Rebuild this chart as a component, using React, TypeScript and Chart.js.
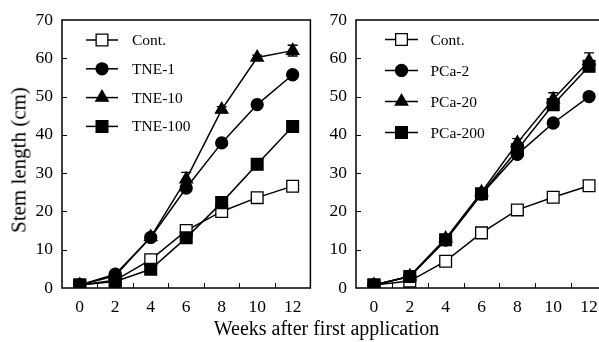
import React, { useEffect, useRef } from 'react';
import { Chart, registerables } from 'chart.js';
Chart.register(...registerables);

// ---------- data ----------
const weeks = [0, 2, 4, 6, 8, 10, 12];
const yTickValues = [0, 10, 20, 30, 40, 50, 60, 70];
const xMinorTicks = [1, 3, 5, 7, 9, 11];
const yMinorTicks = [10, 20, 30, 40, 50, 60];

// Left panel (TNE)
const tneLabels = ['Cont.', 'TNE-1', 'TNE-10', 'TNE-100'];
const tneCont = [0.8, 2.0, 7.4, 15.0, 20.0, 23.6, 26.6];
const tne1 = [0.8, 3.6, 13.2, 26.1, 37.9, 47.9, 55.7];
const tne10 = [0.8, 3.2, 13.3, 28.4, 46.6, 60.2, 62.0];
const tne100 = [0.8, 1.7, 4.9, 13.1, 22.3, 32.3, 42.2];
const tne10Err = [0, 0, 0, 1.8, 0.8, 0.6, 1.4];

// Right panel (PCa)
const pcaLabels = ['Cont.', 'PCa-2', 'PCa-20', 'PCa-200'];
const pcaCont = [0.8, 1.8, 7.0, 14.4, 20.4, 23.7, 26.7];
const pca2 = [0.8, 3.0, 12.5, 24.5, 34.9, 43.1, 50.0];
const pca20 = [0.8, 3.1, 12.9, 25.0, 37.9, 49.3, 59.3];
const pca200 = [0.8, 3.0, 12.6, 24.6, 36.1, 47.9, 57.9];
const pca20Err = [0, 0, 0, 0, 1.1, 1.7, 2.1];

const FONT = "'Liberation Serif', 'Times New Roman', serif";

type Marker = 'rect' | 'circle' | 'triangle';
const markerStyles: Marker[] = ['rect', 'circle', 'triangle', 'rect'];
const markerRadius = [8.3, 6, 7.2, 8.3];
const markerFill = ['#ffffff', '#000000', '#000000', '#000000'];
const drawOrder = [3, 2, 1, 0];

function drawMarker(ctx: CanvasRenderingContext2D, style: Marker, x: number, y: number, r: number, fill: string) {
  ctx.beginPath();
  if (style === 'circle') {
    ctx.arc(x, y, r, 0, Math.PI * 2);
  } else if (style === 'rect') {
    const s = r * Math.SQRT1_2;
    ctx.rect(x - s, y - s, 2 * s, 2 * s);
  } else {
    let a = 0;
    ctx.moveTo(x + Math.sin(a) * r, y - Math.cos(a) * r);
    a += (2 * Math.PI) / 3;
    ctx.lineTo(x + Math.sin(a) * r, y - Math.cos(a) * r);
    a += (2 * Math.PI) / 3;
    ctx.lineTo(x + Math.sin(a) * r, y - Math.cos(a) * r);
    ctx.closePath();
  }
  ctx.fillStyle = fill;
  ctx.fill();
  ctx.stroke();
}

interface PanelCfg {
  labels: string[];
  series: number[][];
  errors: (number[] | null)[];
  yAxisWidth: number;
  padRight: number;
  legend: { marker: number; half: number; text: number; y0: number; dy: number };
}

function makePlugin(cfg: PanelCfg) {
  return {
    id: 'panelDecor',
    afterDatasetsDraw(chart: any) {
      const ctx = chart.ctx as CanvasRenderingContext2D;
      const xs = chart.scales.x;
      const ys = chart.scales.y;
      ctx.save();
      ctx.strokeStyle = '#000';
      ctx.lineWidth = 1.3;
      cfg.errors.forEach((err, di) => {
        if (!err) return;
        err.forEach((e, i) => {
          if (!e) return;
          const v = cfg.series[di][i];
          const px = xs.getPixelForValue(weeks[i]);
          const t = ys.getPixelForValue(v + e);
          const b = ys.getPixelForValue(v - e);
          ctx.beginPath();
          ctx.moveTo(px, t);
          ctx.lineTo(px, b);
          ctx.moveTo(px - 5, t);
          ctx.lineTo(px + 5, t);
          ctx.moveTo(px - 5, b);
          ctx.lineTo(px + 5, b);
          ctx.stroke();
        });
      });
      ctx.restore();
    },
    afterDraw(chart: any) {
      const ctx = chart.ctx as CanvasRenderingContext2D;
      const a = chart.chartArea;
      const xs = chart.scales.x;
      const ys = chart.scales.y;
      ctx.save();
      ctx.strokeStyle = '#000';
      ctx.lineWidth = 1.5;
      ctx.strokeRect(a.left, a.top, a.right - a.left, a.bottom - a.top);
      ctx.lineWidth = 1;
      ctx.beginPath();
      xMinorTicks.forEach((v) => {
        const px = Math.round(xs.getPixelForValue(v)) + 0.5;
        ctx.moveTo(px, a.bottom);
        ctx.lineTo(px, a.bottom - 5);
      });
      yMinorTicks.forEach((v) => {
        const py = Math.round(ys.getPixelForValue(v)) + 0.5;
        ctx.moveTo(a.left, py);
        ctx.lineTo(a.left + 5, py);
      });
      ctx.stroke();

      // legend
      const L = cfg.legend;
      ctx.font = `15.5px ${FONT}`;
      ctx.textBaseline = 'middle';
      ctx.textAlign = 'left';
      cfg.labels.forEach((lab, i) => {
        const y = a.top + L.y0 + i * L.dy;
        const cx = a.left + L.marker;
        ctx.lineWidth = 1.5;
        ctx.strokeStyle = '#000';
        ctx.beginPath();
        ctx.moveTo(cx - L.half, y);
        ctx.lineTo(cx + L.half, y);
        ctx.stroke();
        ctx.lineWidth = 1.3;
        drawMarker(ctx, markerStyles[i], cx, y, markerRadius[i], markerFill[i]);
        ctx.fillStyle = '#000';
        ctx.fillText(lab, a.left + L.text, y + 1);
      });
      ctx.restore();
    },
  };
}

function Panel({ cfg, width, left }: { cfg: PanelCfg; width: number; left: number }) {
  const ref = useRef<HTMLCanvasElement | null>(null);
  useEffect(() => {
    if (!ref.current) return;
    const datasets = cfg.series.map((vals, i) => ({
      label: cfg.labels[i],
      data: weeks.map((w, j) => ({ x: w, y: vals[j] })),
      borderColor: '#000',
      borderWidth: 1.5,
      pointStyle: markerStyles[i],
      pointRadius: markerRadius[i],
      pointBackgroundColor: markerFill[i],
      pointBorderColor: '#000',
      pointBorderWidth: 1.3,
      tension: 0,
      fill: false,
      order: drawOrder[i],
    }));
    const chart = new Chart(ref.current, {
      type: 'line',
      data: { datasets },
      options: {
        responsive: false,
        maintainAspectRatio: false,
        animation: false,
        layout: { padding: { top: 20, right: cfg.padRight, left: 0, bottom: 0 } },
        plugins: { legend: { display: false }, tooltip: { enabled: false } },
        scales: {
          x: {
            type: 'linear',
            min: -1,
            max: 13,
            afterBuildTicks: (s: any) => {
              s.ticks = weeks.map((v) => ({ value: v }));
            },
            afterFit: (s: any) => {
              s.height = 54;
            },
            grid: { display: false, drawTicks: false },
            border: { display: false },
            ticks: {
              color: '#000',
              padding: 9,
              maxRotation: 0,
              autoSkip: false,
              font: { family: FONT, size: 17.5 },
              callback: (v: any) => String(v),
            },
          },
          y: {
            type: 'linear',
            min: 0,
            max: 70,
            afterBuildTicks: (s: any) => {
              s.ticks = yTickValues.map((v) => ({ value: v }));
            },
            afterFit: (s: any) => {
              s.width = cfg.yAxisWidth;
            },
            grid: { display: false, drawTicks: false },
            border: { display: false },
            ticks: {
              color: '#000',
              padding: 9,
              font: { family: FONT, size: 17.5 },
              callback: (v: any) => String(v),
            },
          },
        },
      },
      plugins: [makePlugin(cfg)],
    } as any);
    return () => chart.destroy();
  }, [cfg]);
  return (
    <canvas
      ref={ref}
      width={width}
      height={342}
      style={{ position: 'absolute', left, top: 0, width, height: 342 }}
    />
  );
}

const leftCfg: PanelCfg = {
  labels: tneLabels,
  series: [tneCont, tne1, tne10, tne100],
  errors: [null, null, tne10Err, null],
  yAxisWidth: 62,
  padRight: 5,
  legend: { marker: 40, half: 16, text: 70, y0: 20, dy: 28.8 },
};

const rightCfg: PanelCfg = {
  labels: pcaLabels,
  series: [pcaCont, pca2, pca20, pca200],
  errors: [null, null, pca20Err, null],
  yAxisWidth: 36,
  padRight: 13,
  legend: { marker: 45.5, half: 16.5, text: 74.5, y0: 19.5, dy: 31 },
};

export default function App() {
  return (
    <div
      style={{
        position: 'fixed',
        left: 0,
        top: 0,
        width: 599,
        height: 342,
        overflow: 'hidden',
        background: '#fff',
      }}
    >
      <Panel cfg={leftCfg} width={320} left={0} />
      <Panel cfg={rightCfg} width={300} left={320} />
      <div
        style={{
          position: 'absolute',
          left: 19,
          top: 160,
          transform: 'translate(-50%, -50%) rotate(-90deg)',
          fontFamily: FONT,
          fontSize: 21,
          lineHeight: '21px',
          whiteSpace: 'nowrap',
          color: '#000',
        }}
      >
        Stem length (cm)
      </div>
      <div
        style={{
          position: 'absolute',
          left: 326.5,
          top: 318,
          transform: 'translateX(-50%)',
          fontFamily: FONT,
          fontSize: 20,
          lineHeight: '20px',
          whiteSpace: 'nowrap',
          color: '#000',
        }}
      >
        Weeks after first application
      </div>
    </div>
  );
}
